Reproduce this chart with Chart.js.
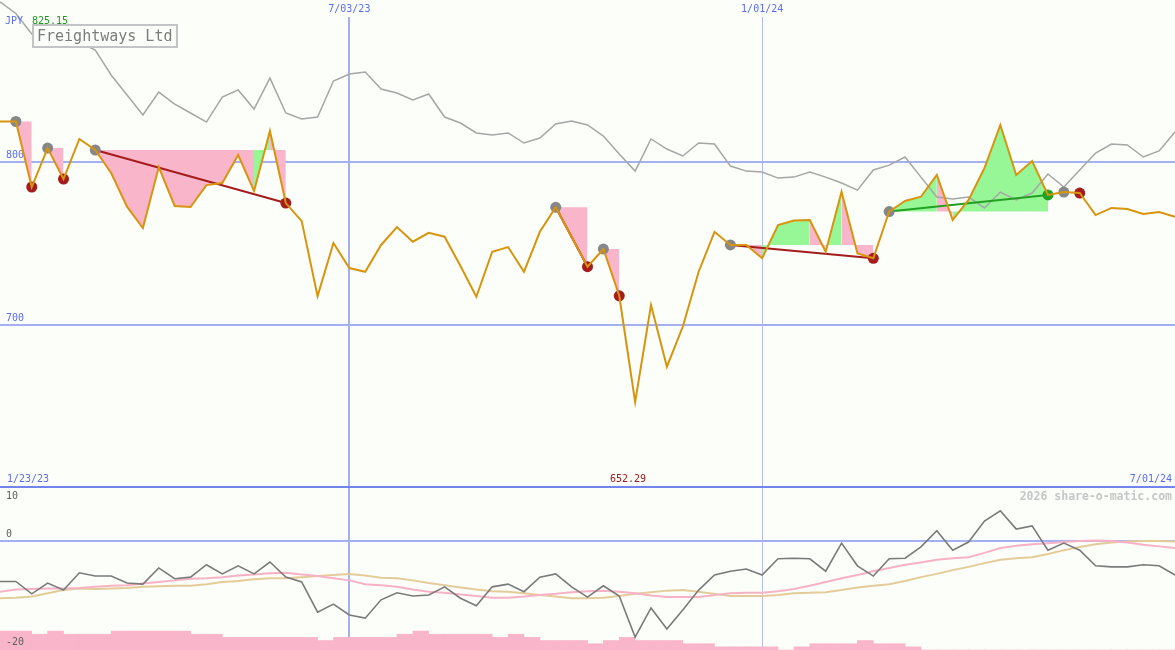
<!DOCTYPE html>
<html><head><meta charset="utf-8">
<script src="https://cdn.jsdelivr.net/npm/chart.js@4.4.1/dist/chart.umd.min.js"></script>
<style>
html,body{margin:0;padding:0;background:#fbfef9;}
#wrap{position:relative;width:1175px;height:650px;overflow:hidden;background:#fbfef9;font-family:'DejaVu Sans Mono',monospace;}
canvas{position:absolute;left:0;}
.t{position:absolute;font-size:10px;line-height:12px;white-space:pre;}
</style></head><body>
<div id="wrap">
<canvas id="top" width="1175" height="487" style="top:0"></canvas>
<canvas id="bot" width="1175" height="163" style="top:487px"></canvas>
<div style="position:absolute;left:0;top:486px;width:1175px;height:2px;background:#7484ee"></div>
<div class="t" id="cur" style="left:5px;top:15px;color:#5b6cf0"></div>
<div class="t" id="hi" style="left:32px;top:15px;color:#1d9a1d"></div>
<div id="title" style="position:absolute;left:32px;top:24px;width:139px;height:20px;padding-left:3px;border:2px solid #c4c4c4;background:#fbfef9;color:#7c7c7c;font-size:15px;line-height:20px;white-space:pre;"></div>
<div class="t" id="d0" style="left:7px;top:473px;color:#5b6cf0"></div>
<div class="t" id="lo" style="left:610px;top:473px;color:#a01818"></div>
<div class="t" id="d1" style="right:3px;top:473px;color:#5b6cf0"></div>
<div class="t" id="wm" style="right:3px;top:489px;color:#c6c6c6;font-weight:bold;font-size:11.5px;line-height:14px"></div>
</div>
<script>
// ---------- data ----------
const chartTitle = 'Freightways Ltd';
const currency = 'JPY';
const watermark = '2026 share-o-matic.com';
const rangeLabels = ['1/23/23', '7/01/24'];
const weeks = ['1/30/23','2/06/23','2/13/23','2/20/23','2/27/23','3/06/23','3/13/23','3/20/23','3/27/23','4/03/23','4/10/23','4/17/23','4/24/23','5/01/23','5/08/23','5/15/23','5/22/23','5/29/23','6/05/23','6/12/23','6/19/23','6/26/23','7/03/23','7/10/23','7/17/23','7/24/23','7/31/23','8/07/23','8/14/23','8/21/23','8/28/23','9/04/23','9/11/23','9/18/23','9/25/23','10/02/23','10/09/23','10/16/23','10/23/23','10/30/23','11/06/23','11/13/23','11/20/23','11/27/23','12/04/23','12/11/23','12/18/23','12/25/23','1/01/24','1/08/24','1/15/24','1/22/24','1/29/24','2/05/24','2/12/24','2/19/24','2/26/24','3/04/24','3/11/24','3/18/24','3/25/24','4/01/24','4/08/24','4/15/24','4/22/24','4/29/24','5/06/24','5/13/24','5/20/24','5/27/24','6/03/24','6/10/24','6/17/24','6/24/24','7/01/24'];
const dateTicks = ['7/03/23', '1/01/24'];
const priceTicks = [800, 700];
const oscTicks = [10, 0, -20];

const close = [825.15, 825.15, 784.8, 808.8, 789.7, 814.4, 807.6, 793.4, 772.7, 759.5,
  797.1, 773.1, 772.5, 786.0, 787.3, 804.5, 782.3, 819.3, 774.9, 763.8,
  717.6, 750.3, 734.9, 732.6, 749.1, 760.1, 751.1, 756.6, 754.2, 736.1,
  717.2, 744.9, 747.8, 732.6, 757.2, 772.3, 754.0, 735.7, 746.6, 717.8,
  652.29, 712.1, 674.1, 698.7, 732.6, 757.2, 749.1, 749.1, 740.9, 761.4,
  764.2, 764.5, 744.9, 781.9, 743.9, 740.9, 769.7, 776.2, 778.8, 792.2,
  764.5, 776.8, 796.5, 823.0, 792.2, 800.8, 779.9, 781.7, 781.1, 767.5,
  771.9, 771.2, 768.2, 769.4, 766.5];

const indexLine = [898.8, 891.7, 879.1, 882.7, 878.4, 874.1, 869.2, 853.8, 841.5, 829.2,
  843.3, 835.9, 830.4, 824.8, 840.2, 844.6, 832.8, 851.9, 830.4, 826.7,
  827.9, 850.1, 854.4, 855.6, 845.2, 842.7, 838.4, 842.1, 827.9, 824.2,
  818.1, 816.8, 818.1, 811.9, 815.0, 823.6, 825.5, 823.0, 816.2, 805.1,
  794.6, 814.4, 808.2, 803.9, 811.9, 811.3, 797.7, 794.6, 794.0, 790.3,
  790.9, 794.0, 790.9, 787.3, 782.9, 795.3, 798.3, 803.3, 790.9, 778.6,
  777.4, 778.6, 771.9, 781.7, 776.8, 781.1, 792.8, 784.8, 795.3, 805.7,
  811.3, 810.7, 803.3, 807.0, 818.7];

// pattern segments: start index, end index, outcome, whether trend line is drawn
const patternStart = [1, 3, 6, 35, 38, 46, 56, 67];
const patternEnd   = [2, 4, 18, 37, 39, 55, 66, 68];
const patternUp    = [false, false, false, false, false, false, true, false];
const patternTrend = [false, false, true, true, false, true, true, false];

const osc = [-7.5, -7.5, -9.8, -7.8, -9.1, -5.9, -6.5, -6.5, -7.8, -8.0,
  -5.0, -7.0, -6.7, -4.4, -6.1, -4.6, -6.1, -3.9, -6.7, -7.6,
  -13.2, -11.7, -13.7, -14.3, -10.9, -9.6, -10.2, -10.0, -8.5, -10.6,
  -12.0, -8.5, -8.0, -9.4, -6.7, -6.1, -8.5, -10.4, -8.3, -10.2,
  -17.8, -12.4, -16.3, -12.8, -9.1, -6.3, -5.6, -5.2, -6.3, -3.3,
  -3.2, -3.3, -5.6, -0.4, -4.6, -6.5, -3.3, -3.2, -1.1, 1.9,
  -1.7, -0.2, 3.7, 5.6, 2.2, 2.8, -1.7, -0.4, -1.7, -4.6,
  -4.8, -4.8, -4.4, -4.6, -6.3];

const oscAvgFast = [-9.4, -9.0, -8.9, -8.8, -8.8, -8.7, -8.5, -8.3, -8.2, -7.9,
  -7.6, -7.3, -7.0, -6.9, -6.7, -6.4, -6.2, -6.0, -5.9, -6.2,
  -6.5, -6.9, -7.3, -8.0, -8.2, -8.5, -9.0, -9.4, -9.6, -9.9,
  -10.2, -10.5, -10.5, -10.3, -10.0, -9.8, -9.5, -9.3, -9.2, -9.4,
  -9.7, -10.1, -10.4, -10.4, -10.4, -10.0, -9.7, -9.6, -9.6, -9.3,
  -8.9, -8.3, -7.6, -6.9, -6.3, -5.6, -5.0, -4.4, -4.0, -3.5,
  -3.2, -3.0, -2.2, -1.3, -0.9, -0.6, -0.4, -0.2, 0.0, 0.1,
  0.0, -0.3, -0.7, -1.0, -1.3];

const oscAvgSlow = [-10.6, -10.5, -10.3, -9.7, -9.1, -8.8, -8.9, -8.8, -8.7, -8.5,
  -8.4, -8.3, -8.3, -8.0, -7.6, -7.4, -7.1, -6.9, -6.9, -6.7,
  -6.5, -6.3, -6.1, -6.4, -6.8, -6.9, -7.3, -7.8, -8.2, -8.6,
  -9.0, -9.3, -9.4, -9.7, -10.0, -10.3, -10.6, -10.6, -10.5, -10.2,
  -9.8, -9.5, -9.2, -9.1, -9.4, -9.8, -10.2, -10.2, -10.2, -10.0,
  -9.7, -9.6, -9.5, -9.1, -8.6, -8.3, -8.0, -7.4, -6.7, -6.1,
  -5.4, -4.8, -4.1, -3.5, -3.2, -3.0, -2.4, -1.7, -1.1, -0.6,
  -0.3, -0.1, 0.0, 0.0, -0.1];

// weekly volume bars (one per week interval)
const volume = [6, 6, 5, 6, 5, 5, 5, 6, 6, 6,
  6, 6, 5, 5, 4, 4, 4, 4, 4, 4,
  3, 4, 4, 4, 4, 5, 6, 5, 5, 5,
  5, 4, 5, 4, 3, 3, 3, 2, 3, 4,
  3, 3, 3, 2, 2, 1, 1, 1, 1, 0,
  1, 2, 2, 2, 3, 2, 2, 1, 0, 0,
  0, 0, 0, 0, 0, 0, 0, 0, 0, 0,
  0, 0, 0, 0];
const barWeeks = weeks.slice(0, volume.length);

// ---------- text ----------
const hiVal = Math.max(...close), loVal = Math.min(...close);
document.getElementById('cur').textContent = currency;
document.getElementById('hi').textContent = hiVal.toFixed(2);
document.getElementById('lo').textContent = loVal.toFixed(2);
document.getElementById('title').textContent = chartTitle;
document.getElementById('d0').textContent = rangeLabels[0];
document.getElementById('d1').textContent = rangeLabels[1];
document.getElementById('wm').textContent = watermark;

// ---------- chart ----------
const BG = '#fbfef9';
const GRID = '#a3b1f2';
const GREEN_FILL = '#97f797', PINK_FILL = '#f9b5c9';
const RED = '#a41c1c', GREENM = '#22a022', GRAYM = '#878787';
Chart.defaults.font.family = "'DejaVu Sans Mono', monospace";
Chart.defaults.font.size = 10;

function only(arr, idx) { return arr.map((v, i) => idx.includes(i) ? v : null); }
function span(a, b) { const r = []; for (let i = a; i <= b; i++) r.push(i); return r; }
function zeroFit(s) {
  s.paddingLeft = s.paddingRight = s.paddingTop = s.paddingBottom = 0;
  if (s.isHorizontal()) s.height = 0; else s.width = 0;
}
const gridW = c => (c.tick && weeks[c.tick.value] === dateTicks[0]) ? 2 : 1;
const gridC = c => (c.tick && weeks[c.tick.value] === dateTicks[0]) ? GRID : '#b5bdee';

function xAxis(showLabels) {
  return {
    type: 'category', position: 'top', offset: false,
    afterBuildTicks: a => { a.ticks = dateTicks.map(d => ({ value: weeks.indexOf(d) })); },
    ticks: {
      display: showLabels, callback: v => weeks[v], color: '#5b6cf0', mirror: true, padding: 3,
      maxRotation: 0, minRotation: 0, autoSkip: false,
      showLabelBackdrop: true, backdropColor: BG, backdropPadding: { top: 3, bottom: 2, left: 2, right: 2 }
    },
    grid: { drawTicks: false, color: gridC, lineWidth: gridW },
    border: { display: false },
    afterFit: zeroFit
  };
}

// top datasets
const topSets = [];
topSets.push({ label: 'close', data: close, borderColor: '#d8940e', borderWidth: 2, pointRadius: 0, fill: false, order: 0 });
topSets.push({ label: 'start', data: only(close, patternStart), showLine: false, pointRadius: 5.5, pointBorderWidth: 0, pointBackgroundColor: GRAYM, order: 1 });
topSets.push({ label: 'endDown', data: only(close, patternEnd.filter((e, p) => !patternUp[p])), showLine: false, pointRadius: 5.5, pointBorderWidth: 0, pointBackgroundColor: RED, order: 1 });
topSets.push({ label: 'endUp', data: only(close, patternEnd.filter((e, p) => patternUp[p])), showLine: false, pointRadius: 5.5, pointBorderWidth: 0, pointBackgroundColor: GREENM, order: 1 });
patternStart.forEach((s, p) => {
  if (!patternTrend[p]) return;
  topSets.push({ label: 'trend' + p, data: only(close, [s, patternEnd[p]]), spanGaps: true, borderColor: patternUp[p] ? GREENM : RED, borderWidth: 2, pointRadius: 0, order: 2 });
});
topSets.push({ label: 'index', data: indexLine, borderColor: '#a6a6a6', borderWidth: 1.5, pointRadius: 0, fill: false, order: 3 });
// fills between the price line and the level of each pattern start; each week
// interval is green when that week closes above the level, pink otherwise.
patternStart.forEach((s, p) => {
  const level = close[s];
  const e = patternEnd[p];
  let k = s + 1;
  while (k <= e) {
    const up = close[k] > level;
    let j = k;
    while (j + 1 <= e && (close[j + 1] > level) === up) j++;
    topSets.push({ label: 'fill' + p + '_' + k, data: only(close, span(k - 1, j)), borderWidth: 0, borderColor: 'rgba(0,0,0,0)', pointRadius: 0,
      fill: { value: level }, backgroundColor: up ? GREEN_FILL : PINK_FILL, order: 4 });
    k = j + 1;
  }
});

const common = {
  responsive: false, animation: false, devicePixelRatio: 1, events: [],
  layout: { padding: 0, autoPadding: false },
  plugins: { legend: { display: false }, tooltip: { enabled: false } }
};

new Chart(document.getElementById('top'), {
  type: 'line',
  data: { labels: weeks, datasets: topSets },
  options: Object.assign({}, common, {
    scales: {
      x: xAxis(true),
      y: {
        type: 'linear', position: 'left', min: 600, max: 900,
        afterBuildTicks: a => { a.ticks = priceTicks.map(v => ({ value: v })); },
        ticks: { mirror: true, padding: 6, labelOffset: -6.5, color: '#5b6cf0', callback: v => String(v) },
        grid: { drawTicks: false, color: GRID, lineWidth: 2 },
        border: { display: false },
        afterFit: zeroFit
      }
    }
  })
});

const OSC_MAX = 10, OSC_MIN = -20.2;
new Chart(document.getElementById('bot'), {
  type: 'line',
  data: {
    labels: weeks,
    datasets: [
      { label: 'osc', data: osc, xAxisID: 'x', yAxisID: 'yo', borderColor: '#7a7a7a', borderWidth: 1.6, pointRadius: 0, order: 0 },
      { label: 'fast', data: oscAvgFast, xAxisID: 'x', yAxisID: 'yo', borderColor: '#f8b2c6', borderWidth: 2, pointRadius: 0, order: 1 },
      { label: 'slow', data: oscAvgSlow, xAxisID: 'x', yAxisID: 'yo', borderColor: '#e3cc9a', borderWidth: 2, pointRadius: 0, order: 2 },
      { type: 'bar', label: 'volume', data: volume, xAxisID: 'xb', yAxisID: 'yv', backgroundColor: '#f9b5c9', borderWidth: 0,
        grouped: false, barPercentage: 1, categoryPercentage: 1, order: 5 }
    ]
  },
  options: Object.assign({}, common, {
    datasets: { bar: { grouped: false, barPercentage: 1, categoryPercentage: 1 } },
    scales: {
      x: xAxis(false),
      xb: { type: 'category', labels: barWeeks, offset: true, display: false },
      yo: {
        type: 'linear', position: 'left', min: OSC_MIN, max: OSC_MAX,
        afterBuildTicks: a => { a.ticks = oscTicks.filter(v => v < OSC_MAX).map(v => ({ value: v })); },
        ticks: { z: 1, mirror: true, padding: 6, labelOffset: -6.2, color: '#5e5e5e', callback: v => String(v) },
        grid: { drawTicks: false, color: c => (c.tick && c.tick.value === 0) ? GRID : 'rgba(0,0,0,0)', lineWidth: 2 },
        border: { display: false },
        afterFit: zeroFit
      },
      yt: {
        type: 'linear', position: 'left', min: OSC_MIN, max: OSC_MAX,
        afterBuildTicks: a => { a.ticks = oscTicks.filter(v => v >= OSC_MAX).map(v => ({ value: v })); },
        ticks: { z: 1, mirror: true, padding: 6, labelOffset: 9, color: '#5e5e5e', callback: v => String(v) },
        grid: { display: false, drawTicks: false },
        border: { display: false },
        afterFit: zeroFit
      },
      yv: { type: 'linear', min: 0, max: 51.7, display: false }
    }
  })
});
</script>
</body></html>
